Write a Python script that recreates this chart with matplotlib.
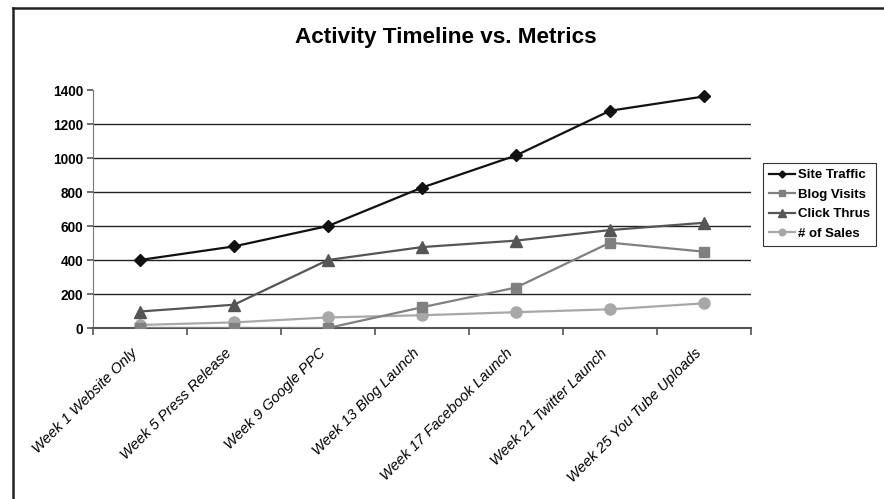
import matplotlib
matplotlib.use("Agg")
import matplotlib.pyplot as plt
import matplotlib.transforms as mtransforms
from matplotlib.lines import Line2D
import numpy as np

plt.rcParams['font.family'] = ['Liberation Sans', 'DejaVu Sans']

categories = ["Week 1 Website Only", "Week 5 Press Release", "Week 9 Google PPC",
              "Week 13 Blog Launch", "Week 17 Facebook Launch", "Week 21 Twitter Launch",
              "Week 25 You Tube Uploads"]
site_traffic = [400, 480, 600, 826, 1015, 1278, 1362]
blog_visits = [0, 0, 0, 122, 238, 502, 449]
click_thrus = [97, 137, 400, 476, 514, 576, 619]
sales = [18, 33, 62, 75, 93, 110, 145]
y_ticks = [0, 200, 400, 600, 800, 1000, 1200, 1400]

fig = plt.figure(figsize=(8.84, 4.99), dpi=100)
ax = fig.add_axes([93/884, 1 - 328/499, (751 - 93)/884, (328 - 90)/499])

x = np.arange(len(categories))
ax.plot(x, site_traffic, color='#111111', lw=1.6, marker='D', ms=6, label='Site Traffic', zorder=5)
ax.plot(x, blog_visits, color='#808080', lw=1.6, marker='s', ms=7, label='Blog Visits', zorder=3)
ax.plot(x, click_thrus, color='#555555', lw=1.6, marker='^', ms=9, label='Click Thrus', zorder=4)
ax.plot(x, sales, color='#a8a8a8', lw=1.6, marker='o', ms=8, label='# of Sales', zorder=2)

ax.set_xlim(-0.5, len(categories) - 0.5)
ax.set_ylim(0, 1400)
ax.set_yticks(y_ticks)
ax.set_yticklabels([str(v) for v in y_ticks], fontsize=9.8, fontweight='bold')
for v in y_ticks[1:-1]:
    ax.axhline(v, color='#222222', lw=1.0, zorder=1)

# categories sit between tick marks, like Excel
ax.set_xticks(np.arange(-0.5, len(categories)))
ax.set_xticklabels([])
ax.tick_params(axis='x', length=5, color='#555555', width=1.2)
ax.tick_params(axis='y', length=4, color='#555555', width=1.2, pad=3)

# category labels drawn as text so they can be nudged
trans = ax.get_xaxis_transform() + mtransforms.ScaledTranslation(-10/100, -18/100, fig.dpi_scale_trans)
for xi, name in zip(x, categories):
    ax.text(xi, 0, name, transform=trans, rotation=45, ha='right', va='top',
            rotation_mode='anchor', fontsize=10.6, style='italic', clip_on=False)

for s in ['top', 'right']:
    ax.spines[s].set_visible(False)
ax.spines['left'].set_color('#777777')
ax.spines['bottom'].set_color('#555555')
ax.spines['bottom'].set_linewidth(1.5)

fig.text(446/884, 1 - 37/499, "Activity Timeline vs. Metrics", ha='center', va='center',
         fontsize=16.2, fontweight='bold')

leg = fig.legend(loc='upper left', bbox_to_anchor=(763/884, 1 - 163/499), frameon=True,
                 fancybox=False, edgecolor='black', prop={'weight': 'bold', 'size': 9.5},
                 handlelength=2.0, borderpad=0.45, labelspacing=0.55, handletextpad=0.2,
                 borderaxespad=0, markerscale=0.6)
leg.get_frame().set_linewidth(0.8)

# chart border (top and left edges visible in crop)
fig.add_artist(Line2D([12.5/884, 12.5/884], [0, 1 - 8/499], color='#222222', lw=1.8, transform=fig.transFigure))
fig.add_artist(Line2D([12.5/884, 1], [1 - 8/499, 1 - 8/499], color='#222222', lw=1.8, transform=fig.transFigure))

fig.savefig("out.png", dpi=100)
